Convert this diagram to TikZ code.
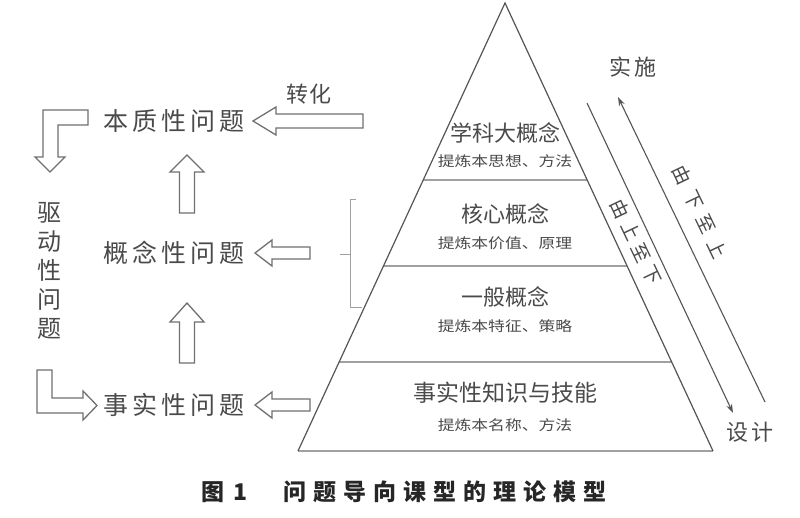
\documentclass[tikz,border=0pt]{standalone}
\usepackage{fontspec}
\usepackage{graphicx}
\newfontfamily\cjk{Noto Sans CJK SC}
\usetikzlibrary{arrows.meta,calc}
\newcommand{\fsz}[1]{\fontsize{#1pt}{#1pt}\selectfont}
\newcommand{\sx}[2]{\scalebox{#1}[1]{#2}}
\definecolor{txtc}{HTML}{4A4A4A}
\definecolor{sidec}{HTML}{555555}
\definecolor{hlc}{HTML}{A0A0A0}
\definecolor{arrc}{HTML}{707070}
\begin{document}
\begin{tikzpicture}[x=1pt,y=-1pt,
  side/.style={draw=sidec, line width=1.2pt},
  hl/.style={draw=hlc, line width=2pt},
  blk/.style={draw=arrc, line width=1.3pt, line join=miter, fill=white},
  thin/.style={draw=sidec, line width=1.1pt, -{Stealth[length=9pt,width=6pt]}},
  brk/.style={draw=hlc, line width=1pt},
  base/.style={text=txtc, inner sep=0pt, font=\cjk},
  big/.style={base, font=\cjk\fsz{22}},
  sub/.style={base, font=\cjk\fsz{14}},
  lab/.style={base, font=\cjk\fsz{25}},
  mid/.style={base, font=\cjk\fsz{22}},
  rot/.style={base, font=\cjk\fsz{19}, rotate=-64.5}
]
\path[use as bounding box, fill=white] (0,0) rectangle (800,518);

% pyramid
\coordinate (A) at (505,3);
\coordinate (BL) at (298,451);
\coordinate (BR) at (713,451);
\draw[hl] (BL) -- (BR);
\draw[hl] ($(A)!0.3951!(BL)$) coordinate (h1l) -- ($(A)!0.3951!(BR)$) coordinate (h1r);
\draw[hl] ($(A)!0.5871!(BL)$) coordinate (h2l) -- ($(A)!0.5871!(BR)$) coordinate (h2r);
\draw[hl] ($(A)!0.8013!(BL)$) coordinate (h3l) -- ($(A)!0.8013!(BR)$) coordinate (h3r);
\draw[side] (BL) -- (A) -- (BR);

\node[big] (l1) at (505,133) {学科大概念};
\node[sub] (s1) at (505,161) {\sx{1.2}{提炼本思想、方法}};
\node[big] (l2) at (505,214) {核心概念};
\node[sub] (s2) at (505,243) {\sx{1.2}{提炼本价值、原理}};
\node[big] (l3) at (505,297) {一般概念};
\node[sub] (s3) at (505,326) {\sx{1.2}{提炼本特征、策略}};
\node[big, font=\cjk\fsz{23}] (l4) at (505,393) {事实性知识与技能};
\node[sub] (s4) at (505,425) {\sx{1.2}{提炼本名称、方法}};

% right arrows
\coordinate (d1) at (587,103);
\coordinate (d2) at (733,413);
\draw[thin] (d1) -- (d2);
\coordinate (u1) at (765,402);
\coordinate (u2) at (618,97);
\draw[thin] (u1) -- (u2);
\node[rot] (td) at (636,242) {由\kern5.5pt 上\kern5.5pt 至\kern5.5pt 下};
\node[rot] (tu) at (700,212) {由\kern8pt 下\kern8pt 至\kern8pt 上};
\node[mid] (ss) at (633,67) {实\kern4pt 施};
\node[mid] (sj) at (750,432) {设\kern4pt 计};

% left labels
\node[lab] (q1) at (174,121) {本\kern4pt 质\kern4pt 性\kern4pt 问\kern4pt 题};
\node[lab] (q2) at (174,253) {概\kern4pt 念\kern4pt 性\kern4pt 问\kern4pt 题};
\node[lab] (q3) at (174,405) {事\kern4pt 实\kern4pt 性\kern4pt 问\kern4pt 题};
\node[base, font=\cjk\fontsize{24pt}{29pt}\selectfont, align=center] (dq) at (49,271) {驱\\动\\性\\问\\题};
\node[mid] (zh) at (309,94) {转\kern2pt 化};

% block arrows
\draw[blk] (363,114) -- (276,114) -- (276,107) -- (253,121) -- (276,135) -- (276,128) -- (363,128) -- cycle;
\draw[blk] (310,247) -- (272,247) -- (272,240) -- (255,253) -- (272,266) -- (272,259) -- (310,259) -- cycle;
\draw[blk] (310,399) -- (272,399) -- (272,392) -- (255,405) -- (272,418) -- (272,411) -- (310,411) -- cycle;
\draw[blk] (179.5,213) -- (179.5,172) -- (170,172) -- (187,155) -- (204,172) -- (194.5,172) -- (194.5,213) -- cycle;
\draw[blk] (179.5,363) -- (179.5,322) -- (170,322) -- (187,303) -- (204,322) -- (194.5,322) -- (194.5,363) -- cycle;
\draw[blk] (88,110) -- (43,110) -- (43,157) -- (35,157) -- (50,172) -- (65,157) -- (58,157) -- (58,125) -- (88,125) -- cycle;
\draw[blk] (37,370) -- (52,370) -- (52,398) -- (83,398) -- (83,391) -- (97,405.5) -- (83,420) -- (83,413) -- (37,413) -- cycle;

% bracket
\draw[brk] (356,200) -- (350,200) -- (350,308) -- (362,308);
\draw[brk] (340,255) -- (350,255);

% caption
\node[base, text=black!85, font=\cjk\bfseries\fsz{23}, anchor=west] (cap) at (201,492)
  {图\kern9pt 1\kern36pt 问\kern7pt 题\kern7pt 导\kern7pt 向\kern7pt 课\kern7pt 型\kern7pt 的\kern7pt 理\kern7pt 论\kern7pt 模\kern7pt 型};
\end{tikzpicture}
\end{document}
